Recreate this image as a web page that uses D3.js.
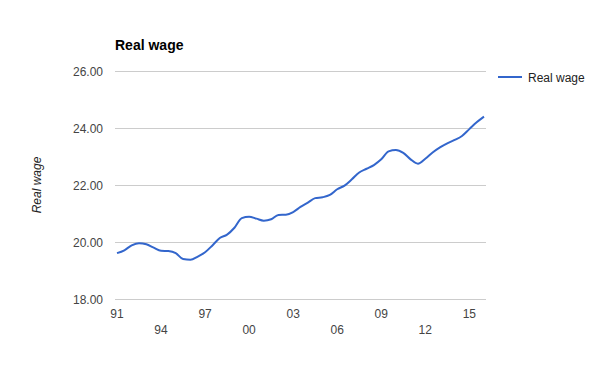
<!DOCTYPE html>
<html>
<head>
<meta charset="utf-8">
<script src="https://cdnjs.cloudflare.com/ajax/libs/d3/7.8.5/d3.min.js"></script>
<style>
  body { margin: 0; background: #fff; }
  text { font-family: Arial, "Liberation Sans", sans-serif; }
</style>
</head>
<body>
<div id="chart"></div>
<script>
  // half-yearly readings, 1991 to 2016
  var periods = [1991, 1991.5, 1992, 1992.5, 1993, 1993.5, 1994, 1994.5, 1995, 1995.5,
                 1996, 1996.5, 1997, 1997.5, 1998, 1998.5, 1999, 1999.5, 2000, 2000.5,
                 2001, 2001.5, 2002, 2002.5, 2003, 2003.5, 2004, 2004.5, 2005, 2005.5,
                 2006, 2006.5, 2007, 2007.5, 2008, 2008.5, 2009, 2009.5, 2010, 2010.5,
                 2011, 2011.5, 2012, 2012.5, 2013, 2013.5, 2014, 2014.5, 2015, 2015.5, 2016];
  var realWage = [19.61, 19.71, 19.88, 19.96, 19.92, 19.80, 19.69, 19.68, 19.61, 19.40,
                  19.38, 19.49, 19.64, 19.88, 20.14, 20.26, 20.50, 20.84, 20.89, 20.82,
                  20.75, 20.80, 20.95, 20.96, 21.05, 21.23, 21.38, 21.54, 21.57, 21.65,
                  21.85, 21.98, 22.20, 22.44, 22.57, 22.70, 22.90, 23.18, 23.23, 23.13,
                  22.90, 22.75, 22.92, 23.14, 23.32, 23.46, 23.58, 23.72, 23.96, 24.20, 24.40];
  var xTicks = [1991, 1994, 1997, 2000, 2003, 2006, 2009, 2012, 2015];
  var yTicks = [18, 20, 22, 24, 26];

  var w = 600, h = 371;
  var plotLeft = 115, plotRight = 486, plotTop = 71, plotBottom = 299;

  var svg = d3.select("#chart").append("svg")
      .attr("width", w)
      .attr("height", h);

  var x = d3.scaleLinear().domain([1991, 2016]).range([117, 484]);
  var y = d3.scaleLinear().domain([18, 26]).range([plotBottom, plotTop]);

  // gridlines
  svg.selectAll(".grid").data(yTicks)
    .enter().append("line")
    .attr("x1", plotLeft).attr("x2", plotRight)
    .attr("y1", function(d){ return y(d) + 0.5; })
    .attr("y2", function(d){ return y(d) + 0.5; })
    .attr("stroke", "#cccccc")
    .attr("stroke-width", 1);

  // y tick labels
  svg.selectAll(".ylab").data(yTicks)
    .enter().append("text")
    .attr("x", 103)
    .attr("y", function(d){ return y(d) + 4.5; })
    .attr("text-anchor", "end")
    .attr("font-size", 12)
    .attr("fill", "#444")
    .text(function(d){ return d3.format(".2f")(d); });

  // x tick labels, alternating rows
  svg.selectAll(".xlab").data(xTicks)
    .enter().append("text")
    .attr("x", function(d){ return x(d); })
    .attr("y", function(d, i){ return i % 2 === 0 ? 317.5 : 333.5; })
    .attr("text-anchor", "middle")
    .attr("font-size", 12)
    .attr("fill", "#444")
    .text(function(d){ return String(d).slice(2); });

  // line
  var pts = periods.map(function(p, i){ return [p, realWage[i]]; });
  var line = d3.line()
    .x(function(d){ return x(d[0]); })
    .y(function(d){ return y(d[1]); })
    .curve(d3.curveMonotoneX);

  svg.append("path")
    .datum(pts)
    .attr("d", line)
    .attr("fill", "none")
    .attr("stroke", "#3366cc")
    .attr("stroke-width", 2)
    .attr("stroke-linejoin", "round");

  // title
  svg.append("text")
    .attr("x", 115).attr("y", 50)
    .attr("font-size", 14)
    .attr("font-weight", "bold")
    .attr("fill", "#000")
    .text("Real wage");

  // y axis title
  svg.append("text")
    .attr("transform", "translate(41,185) rotate(-90)")
    .attr("text-anchor", "middle")
    .attr("font-size", 12)
    .attr("font-style", "italic")
    .attr("fill", "#222")
    .text("Real wage");

  // legend
  svg.append("line")
    .attr("x1", 498).attr("x2", 522)
    .attr("y1", 77).attr("y2", 77)
    .attr("stroke", "#3366cc")
    .attr("stroke-width", 2);
  svg.append("text")
    .attr("x", 528).attr("y", 81.5)
    .attr("font-size", 12)
    .attr("fill", "#222")
    .text("Real wage");
</script>
</body>
</html>
